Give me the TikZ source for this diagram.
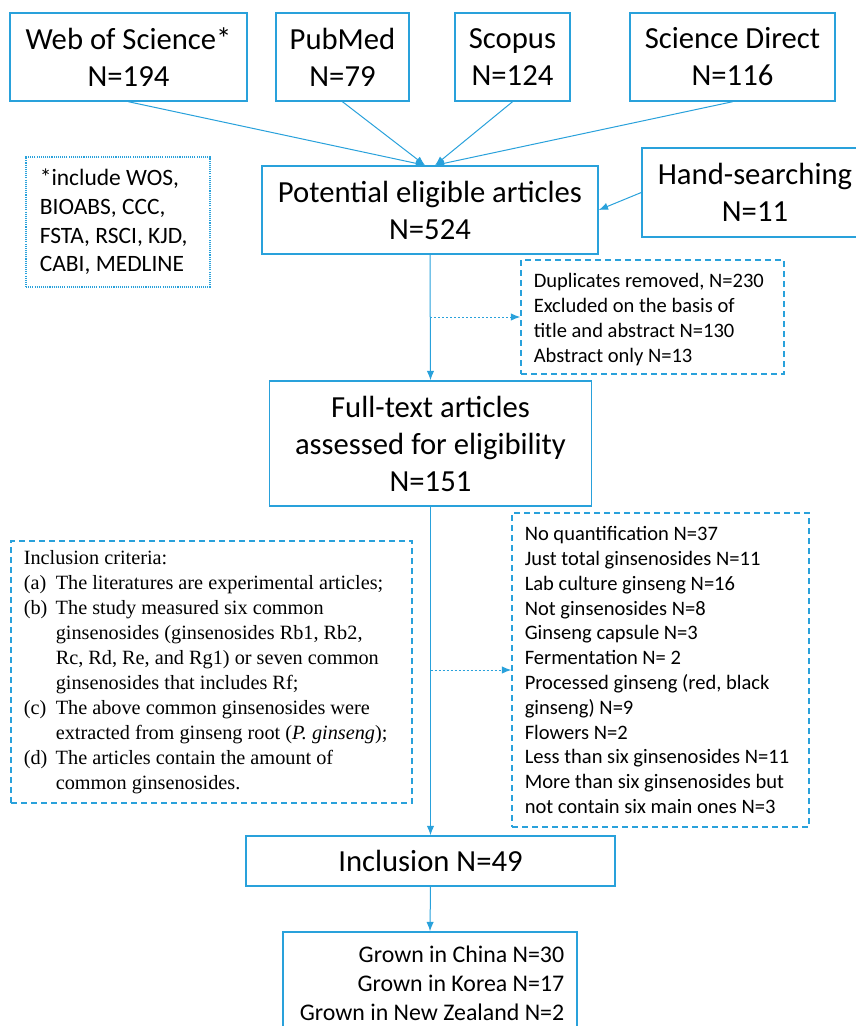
\documentclass[tikz,border=0pt]{standalone}
\usepackage{fontspec}
\setmainfont{Carlito}
\newfontfamily\timesfont{Liberation Serif}
\usetikzlibrary{arrows.meta}

\definecolor{flowblue}{RGB}{41,161,219}
\newcommand\bigtxt{\fontsize{23pt}{27.75pt}\selectfont}
\newcommand\smalltxt{\fontsize{15.4pt}{18.6pt}\selectfont}
\newcommand\notetxt{\fontsize{17.6pt}{21.5pt}\selectfont}
\newcommand\growntxt{\fontsize{17.9pt}{21.75pt}\selectfont}
\newcommand\crittxt{\timesfont\fontsize{15.2pt}{18.75pt}\selectfont}
\newcommand\critlabel[1]{\makebox[24pt][l]{#1}}
\newcommand\critindent{\hspace*{24pt}}

\tikzset{every picture/.style={line width=0.75pt}}
\tikzset{
  box/.style={draw=flowblue, line width=1.1pt, inner sep=0pt, align=center, font=\bigtxt},
  dashbox/.style={draw=flowblue, line width=1.1pt, dash pattern=on 4.5pt off 3pt, inner sep=0pt},
  dotbox/.style={draw=flowblue, line width=1pt, dash pattern=on 0.8pt off 0.8pt, inner sep=0pt},
  boxtext/.style={inner sep=0.75pt, align=left, font=\smalltxt},
  conn/.style={draw=flowblue, line width=0.75pt, -{Latex[length=7pt,width=5.5pt]}},
  dotconn/.style={conn, dash pattern=on 1.5pt off 1.5pt}
}

\begin{document}
\begin{tikzpicture}[x=0.75pt,y=0.75pt,yscale=-1,xscale=1]
\useasboundingbox (0,0) rectangle (856,1026);

%Shape: Rectangle
\node [box, minimum width=177.75pt, minimum height=66pt] (wos) at (128.5,57) {Web of Science*\\N=194};
%Shape: Rectangle
\node [box, minimum width=99.75pt, minimum height=66pt] (pubmed) at (342.5,57) {PubMed\\N=79};
%Shape: Rectangle
\node [box, minimum width=86.25pt, minimum height=66pt] (scopus) at (512.5,57) {Scopus\\N=124};
%Shape: Rectangle
\node [box, minimum width=153.75pt, minimum height=66pt] (scidirect) at (732.5,57) {Science Direct\\N=116};
%Shape: Rectangle
\node [box, minimum width=252pt, minimum height=66pt] (potential) at (430,210) {Potential eligible articles\\N=524};
%Shape: Rectangle
\node [box, minimum width=169.5pt, minimum height=66.75pt] (hand) at (755,192.5) {Hand-searching\\N=11};
%Shape: Rectangle
\node [dotbox, minimum width=138pt, minimum height=97.5pt] (note) at (118,222) {};
%Shape: Rectangle
\node [dashbox, minimum width=197.25pt, minimum height=85.5pt] (dup) at (652.5,317) {};
%Shape: Rectangle
\node [box, minimum width=241.5pt, minimum height=93.75pt] (fulltext) at (430.5,443.5) {Full-text articles\\assessed for eligibility\\N=151};
%Shape: Rectangle
\node [dashbox, minimum width=300.75pt, minimum height=196.5pt] (criteria) at (211.5,672) {};
%Shape: Rectangle
\node [dashbox, minimum width=222.75pt, minimum height=235.5pt] (excluded) at (660.5,670) {};
%Shape: Rectangle
\node [box, minimum width=276.75pt, minimum height=37.5pt] (inclusion) at (430.5,861) {Inclusion N=49};
%Shape: Rectangle
\node [box, minimum width=220.5pt, minimum height=81pt] (grown) at (430,986) {};

% Text Node
\node [boxtext, anchor=west, font=\notetxt] (notetext) at ([xshift=9.75pt]note.west) {*include WOS,\\BIOABS, CCC,\\FSTA, RSCI, KJD,\\CABI, MEDLINE};
% Text Node
\node [boxtext, anchor=west] (duptext) at ([xshift=9pt,yshift=2pt]dup.west) {Duplicates removed, N=230\\Excluded on the basis of\\title and abstract N=130\\Abstract only N=13};
% Text Node
\node [boxtext, anchor=west, font=\crittxt] (criteriatext) at ([xshift=9pt]criteria.west) {Inclusion criteria:\\
\critlabel{(a)}The literatures are experimental articles;\\
\critlabel{(b)}The study measured six common\\
\critindent ginsenosides (ginsenosides Rb1, Rb2,\\
\critindent Rc, Rd, Re, and Rg1) or seven common\\
\critindent ginsenosides that includes Rf;\\
\critlabel{(c)}The above common ginsenosides were\\
\critindent extracted from ginseng root (\textit{P. ginseng});\\
\critlabel{(d)}The articles contain the amount of\\
\critindent common ginsenosides.};
% Text Node
\node [boxtext, anchor=west] (excludedtext) at ([xshift=9pt]excluded.west) {No quantification N=37\\Just total ginsenosides N=11\\Lab culture ginseng N=16\\Not ginsenosides N=8\\Ginseng capsule N=3\\Fermentation N= 2\\Processed ginseng (red, black\\ginseng) N=9\\Flowers N=2\\Less than six ginsenosides N=11\\More than six ginsenosides but\\not contain six main ones N=3};
% Text Node
\node [boxtext, anchor=east, align=right, font=\growntxt] (growntext) at ([xshift=-9pt,yshift=-2.25pt]grown.east) {Grown in China N=30\\Grown in Korea N=17\\Grown in New Zealand N=2};

\coordinate (potleft) at ([xshift=-3.75pt]potential.north);
\coordinate (potright) at ([xshift=3.75pt]potential.north);
\coordinate (dupin) at (potential.south |- dup.west);
\coordinate (excin) at (fulltext.south |- excluded.west);

%Straight Lines
\draw [conn] (wos.south) -- (potleft);
\draw [conn] (pubmed.south) -- (potleft);
\draw [conn] (scopus.south) -- (potright);
\draw [conn] (scidirect.south) -- (potright);
\draw [conn] (hand.west) -- (potential.east);
\draw [conn] (potential.south) -- (fulltext.north);
\draw [dotconn] (dupin) -- (dup.west);
\draw [conn] (fulltext.south) -- (inclusion.north);
\draw [dotconn] (excin) -- (excluded.west);
\draw [conn] (inclusion.south) -- (grown.north);

\end{tikzpicture}
\end{document}
